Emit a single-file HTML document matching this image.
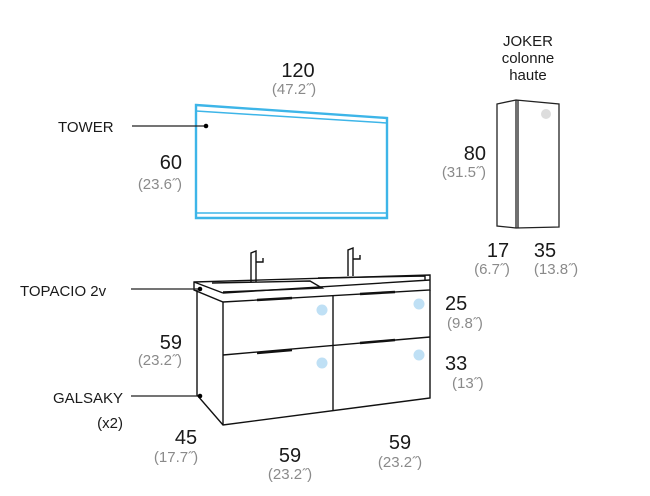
<!DOCTYPE html>
<html><head><meta charset="utf-8"><style>
html,body{margin:0;padding:0;background:#fff;width:650px;height:496px;overflow:hidden}
svg text{font-family:"Liberation Sans",sans-serif}
.n{font-size:20px;fill:#1a1a1a}
.g{font-size:15px;fill:#8a8a8a}
.l{font-size:15px;fill:#1a1a1a}
</style></head><body>
<svg width="650" height="496" viewBox="0 0 650 496" xmlns="http://www.w3.org/2000/svg">
<g fill="none" stroke="#3db5e8" stroke-width="2.4">
<polygon points="196,105 387,118 387,218 196,218"/>
<line x1="196" y1="111" x2="387" y2="123" stroke-width="1.5"/>
<line x1="196" y1="213" x2="387" y2="213" stroke-width="1.5"/>
</g>
<line x1="132" y1="126" x2="205" y2="126" stroke="#222" stroke-width="1.2"/>
<circle cx="206" cy="126" r="2.3" fill="#000"/>
<text class="l" x="58" y="132">TOWER</text>
<text class="n" x="298" y="77" text-anchor="middle">120</text>
<text class="g" x="294" y="94" text-anchor="middle">(47.2˝)</text>
<text class="n" x="182" y="169" text-anchor="end">60</text>
<text class="g" x="182" y="189" text-anchor="end">(23.6˝)</text>
<g fill="none" stroke="#222" stroke-width="1.3">
<polygon points="497,104 516,100 559,104 559,227 516,228 497,226"/>
<line x1="516" y1="100" x2="516" y2="228"/>
<line x1="518" y1="100" x2="518" y2="228"/>
</g>
<circle cx="546" cy="114" r="5" fill="#ddd"/>
<text class="l" x="528" y="46" text-anchor="middle">JOKER</text>
<text class="l" x="528" y="63" text-anchor="middle">colonne</text>
<text class="l" x="528" y="80" text-anchor="middle">haute</text>
<text class="n" x="486" y="160" text-anchor="end">80</text>
<text class="g" x="486" y="177" text-anchor="end">(31.5˝)</text>
<text class="n" x="498" y="257" text-anchor="middle">17</text>
<text class="g" x="492" y="274" text-anchor="middle">(6.7˝)</text>
<text class="n" x="545" y="257" text-anchor="middle">35</text>
<text class="g" x="556" y="274" text-anchor="middle">(13.8˝)</text>
<g fill="none" stroke="#111" stroke-width="1.4">
<polygon points="194,282 430,275 430,290 223,302 194,290"/>
<line x1="194" y1="282" x2="223" y2="293"/>
<line x1="223" y1="293" x2="430" y2="280"/>
<polyline points="212,283 310,281 322,288 223,292"/>
<polyline points="318,278 425,276 425,280"/>
<polyline points="197,290 197,395 223,425 430,398 430,290"/>
<line x1="223" y1="302" x2="223" y2="425"/>
<line x1="333" y1="296" x2="333" y2="410"/>
<line x1="223" y1="355" x2="430" y2="337"/>
<polyline points="251,282 251,253 256,251 256,282"/>
<polyline points="256,262 263,262 263,258"/>
<polyline points="348,276 348,250 353,248 353,276"/>
<polyline points="353,259 360,259 360,255"/>
</g>
<g stroke="#111" stroke-width="2.5">
<line x1="257" y1="300" x2="292" y2="298"/>
<line x1="360" y1="294" x2="395" y2="292"/>
<line x1="257" y1="353" x2="292" y2="350"/>
<line x1="360" y1="343" x2="395" y2="340"/>
</g>
<g fill="#bfe0f5">
<circle cx="322" cy="310" r="5.5"/>
<circle cx="419" cy="304" r="5.5"/>
<circle cx="322" cy="363" r="5.5"/>
<circle cx="419" cy="355" r="5.5"/>
</g>
<line x1="131" y1="289" x2="200" y2="289" stroke="#222" stroke-width="1.2"/>
<circle cx="200" cy="289" r="2.3" fill="#000"/>
<line x1="131" y1="396" x2="200" y2="396" stroke="#222" stroke-width="1.2"/>
<circle cx="200" cy="396" r="2.3" fill="#000"/>
<text class="l" x="20" y="296">TOPACIO 2v</text>
<text class="l" x="123" y="403" text-anchor="end">GALSAKY</text>
<text class="l" x="123" y="428" text-anchor="end">(x2)</text>
<text class="n" x="182" y="349" text-anchor="end">59</text>
<text class="g" x="182" y="365" text-anchor="end">(23.2˝)</text>
<text class="n" x="186" y="444" text-anchor="middle">45</text>
<text class="g" x="176" y="462" text-anchor="middle">(17.7˝)</text>
<text class="n" x="290" y="462" text-anchor="middle">59</text>
<text class="g" x="290" y="479" text-anchor="middle">(23.2˝)</text>
<text class="n" x="400" y="449" text-anchor="middle">59</text>
<text class="g" x="400" y="467" text-anchor="middle">(23.2˝)</text>
<text class="n" x="445" y="310">25</text>
<text class="g" x="447" y="328">(9.8˝)</text>
<text class="n" x="445" y="370">33</text>
<text class="g" x="452" y="388">(13˝)</text>
</svg>
</body></html>
